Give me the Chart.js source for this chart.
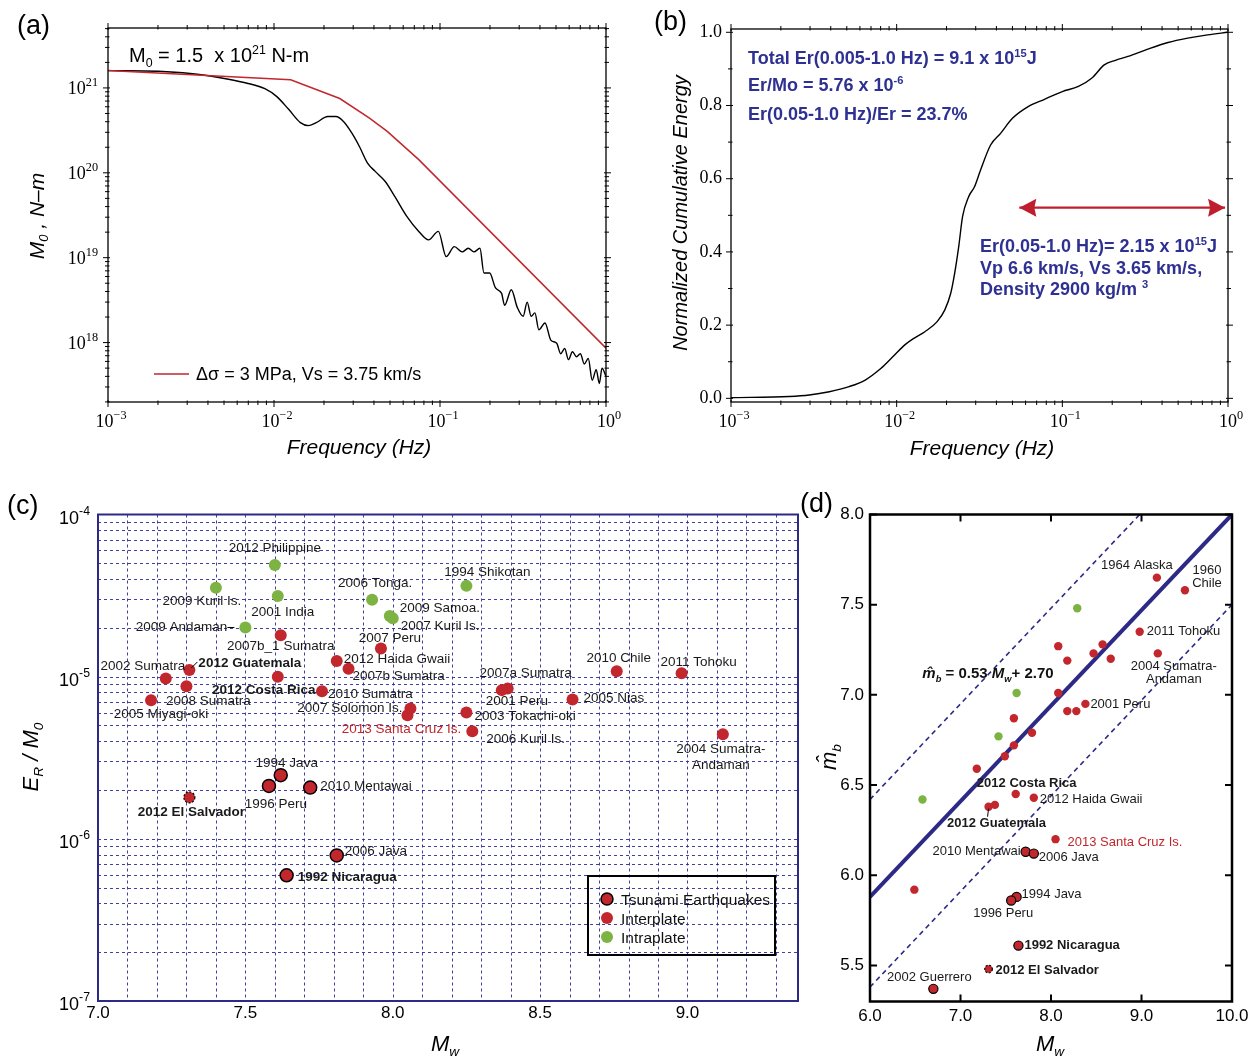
<!DOCTYPE html>
<html><head><meta charset="utf-8">
<script src="https://cdn.jsdelivr.net/npm/chart.js@4.4.1/dist/chart.umd.min.js"></script>
<style>
html,body{margin:0;padding:0;background:#fff;}
body{width:1255px;height:1056px;position:relative;overflow:hidden;}
canvas{position:absolute;}
</style></head><body>
<canvas id="ca" width="628" height="470" style="left:0;top:0;width:628px;height:470px"></canvas>
<canvas id="cb" width="627" height="470" style="left:628px;top:0;width:627px;height:470px"></canvas>
<canvas id="cc" width="815" height="586" style="left:0;top:470px;width:815px;height:586px"></canvas>
<canvas id="cd" width="460" height="586" style="left:795px;top:470px;width:460px;height:586px"></canvas>
<script>
// ---------------- DATA ----------------
// (a) moment-rate spectrum
const aFreq = [0.001,0.00201,0.00312,0.00483,0.00671,0.00881,0.0104,0.01225,0.01442,0.0161,0.01795,0.0211,0.0236,0.0263,0.0294,0.0327,0.0366,0.0407,0.0468,0.0536,0.0631,0.0745,0.0853,0.0977,0.109,0.122,0.136,0.148,0.160,0.174,0.184,0.199,0.216,0.235,0.245,0.269,0.292,0.317,0.335,0.354,0.373,0.394,0.429,0.465,0.505,0.533,0.564,0.594,0.628,0.664,0.701,0.740,0.782,0.826,0.873,0.912,0.946,1.0];
const aMoment = [1.60e21,1.57e21,1.48e21,1.31e21,1.15e21,9.8e20,7.9e20,5.6e20,3.9e20,3.6e20,3.9e20,4.6e20,4.6e20,4.0e20,2.95e20,2.04e20,1.30e20,1.04e20,7.9e19,5.2e19,3.07e19,2.04e19,1.62e19,2.04e19,1.03e19,1.35e19,1.17e19,1.29e19,1.17e19,1.29e19,6.6e18,6.6e18,4.4e18,3.8e18,2.75e18,4.2e18,2.6e18,2.04e18,3.0e18,2.04e18,2.24e18,1.41e18,1.70e18,1.07e18,9.8e17,7.4e17,8.5e17,6.3e17,7.8e17,6.8e17,7.4e17,5.6e17,6.5e17,3.6e17,4.8e17,3.3e17,5.0e17,4.0e17];
const aModelFreq = [0.001,0.0126,0.0249,0.0376,0.0481,0.0745,1.0];
const aModelMoment = [1.60e21,1.25e21,7.5e20,4.4e20,3.08e20,1.43e20,8.6e17];
const aXTicks = [0.001,0.01,0.1,1];
const aXTickExp = ['−3','−2','−1','0'];
const aYTicks = [1e18,1e19,1e20,1e21];
const aYTickExp = ['18','19','20','21'];

// (b) normalized cumulative energy
const bFreq = [0.001,0.00225,0.00297,0.00392,0.00516,0.00646,0.00805,0.00951,0.0112,0.0127,0.0148,0.0175,0.0195,0.0212,0.0224,0.0237,0.0250,0.0272,0.0295,0.0321,0.0369,0.0424,0.0500,0.0622,0.0780,0.100,0.125,0.151,0.179,0.211,0.249,0.328,0.434,0.571,0.753,1.0];
const bEnergy = [0.002,0.005,0.009,0.018,0.032,0.050,0.082,0.114,0.146,0.164,0.182,0.209,0.241,0.287,0.342,0.415,0.497,0.551,0.578,0.624,0.692,0.724,0.765,0.797,0.817,0.838,0.852,0.875,0.911,0.924,0.934,0.954,0.972,0.984,0.993,1.0];
const bArrowFreq = [0.055,0.96];
const bArrowLevel = [0.521,0.521];
const bXTicks = [0.001,0.01,0.1,1];
const bXTickExp = ['−3','−2','−1','0'];
const bYTicks = [0,0.2,0.4,0.6,0.8,1.0];
const bYTickLabels = ['0.0','0.2','0.4','0.6','0.8','1.0'];

// (c) E_R/M_0 vs Mw
const cTsuNames = ['1994 Java','1996 Peru','2010 Mentawai','2006 Java','1992 Nicaragua'];
const cTsuMw = [7.62,7.58,7.72,7.81,7.64];
const cTsuER = [2.47e-6,2.12e-6,2.07e-6,7.9e-7,5.96e-7];
const cInterNames = ['2007b_1 Sumatra','2007 Peru','2012 Haida Gwaii','2007b Sumatra','2012 Guatemala','2002 Sumatra','2012 Costa Rica','2008 Sumatra','2005 Miyagi-oki','2010 Sumatra','2007 Solomon Is.','2013 Santa Cruz Is.','2007a Sumatra','2001 Peru','2010 Chile','2011 Tohoku','2005 Nias','2003 Tokachi-oki','2006 Kuril Is.','2004 Sumatra-Andaman'];
const cInterMw = [7.62,7.96,7.81,7.85,7.31,7.23,7.61,7.30,7.18,7.76,8.06,8.05,8.39,8.37,8.76,8.98,8.61,8.25,8.27,9.12];
const cInterER = [1.80e-5,1.49e-5,1.25e-5,1.12e-5,1.10e-5,9.75e-6,9.98e-6,8.73e-6,7.16e-6,8.13e-6,6.37e-6,5.78e-6,8.45e-6,8.26e-6,1.08e-5,1.05e-5,7.23e-6,6.01e-6,4.61e-6,4.42e-6];
const cIntraNames = ['2012 Philippine','2009 Kuril Is.','2001 India','2006 Tonga.','2009 Samoa.','2007 Kuril Is.','2009 Andaman','1994 Shikotan'];
const cIntraMw = [7.60,7.40,7.61,7.93,7.99,8.00,7.50,8.25];
const cIntraER = [4.88e-5,3.53e-5,3.14e-5,2.98e-5,2.37e-5,2.29e-5,2.01e-5,3.63e-5];
const cSalvName = ['2012 El Salvador'];
const cSalvMw = [7.31];
const cSalvER = [1.80e-6];
const cXTicks = [7.0,7.5,8.0,8.5,9.0];
const cXTickLabels = ['7.0','7.5','8.0','8.5','9.0'];
const cYTicks = [1e-7,1e-6,1e-5,1e-4];
const cYTickExp = ['-7','-6','-5','-4'];
const cLegendLabels = ['Tsunami Earthquakes','Interplate','Intraplate'];

// (d) mb-hat vs Mw
const dTsuNames = ['2010 Mentawai','2006 Java','1994 Java','1996 Peru','1992 Nicaragua','2002 Guerrero'];
const dTsuMw = [7.72,7.81,7.62,7.56,7.64,6.70];
const dTsuMb = [6.13,6.12,5.88,5.86,5.61,5.37];
const dInterNames = ['1964 Alaska','1960 Chile','2011 Tohoku','','','','','','2004 Sumatra-Andaman','','2001 Peru','','','','','','','','2012 Costa Rica','2012 Haida Gwaii','2012 Guatemala','','2013 Santa Cruz Is.',''];
const dInterMw = [9.17,9.48,8.98,8.08,8.57,8.47,8.18,8.66,9.18,8.08,8.38,8.18,8.28,7.59,7.79,7.59,7.49,7.18,7.61,7.81,7.31,7.38,8.05,6.49];
const dInterMb = [7.65,7.58,7.35,7.27,7.28,7.23,7.19,7.20,7.23,7.01,6.95,6.91,6.91,6.87,6.79,6.72,6.66,6.59,6.45,6.43,6.38,6.39,6.20,5.92];
const dIntraMw = [8.29,7.62,7.42,6.58];
const dIntraMb = [7.48,7.01,6.77,6.42];
const dSalvName = ['2012 El Salvador'];
const dSalvMw = [7.31];
const dSalvMb = [5.48];
const dFitMw = [6.0,10.0],  dFitMb = [5.88,8.0];
const dUpperMw = [6.0,8.98], dUpperMb = [6.42,8.0];
const dLowerMw = [6.0,10.0], dLowerMb = [5.38,7.5];
const dXTicks = [6,7,8,9,10];
const dXTickLabels = ['6.0','7.0','8.0','9.0','10.0'];
const dYTicks = [5.5,6.0,6.5,7.0,7.5,8.0];
const dYTickLabels = ['5.5','6.0','6.5','7.0','7.5','8.0'];

// ---------------- STYLE / HELPERS ----------------
const SANS = '"Liberation Sans", Arial, Helvetica, sans-serif';
const SERIF = '"Liberation Serif", "Times New Roman", serif';
const RED = '#c1272d', GREEN = '#7cb342', NAVY = '#2c2a86', BTXT = '#2e3192';
Chart.defaults.font.family = SANS;
Chart.defaults.color = '#000';

const pts = (xs, ys) => xs.map((x, i) => ({x, y: ys[i]}));
function logMinor(lo, hi) { const r = []; for (let e = lo; e < hi; e++) for (let k = 2; k <= 9; k++) r.push(k * Math.pow(10, e)); return r; }

function rich(ctx, parts, x, y, o) {
  const size = o.size, fam = o.family || SANS;
  ctx.save();
  ctx.translate(x, y);
  if (o.rotate) ctx.rotate(o.rotate);
  ctx.fillStyle = o.color || '#000';
  ctx.textBaseline = 'alphabetic'; ctx.textAlign = 'left';
  const supScale = o.supScale || 0.62;
  const segs = parts.map(p => {
    const kind = p[1] || '', st = p[2] || {};
    const s = kind ? size * supScale : size;
    const f = `${st.style || o.style || 'normal'} ${st.weight || o.weight || 'normal'} ${s}px ${fam}`;
    ctx.font = f;
    return {t: p[0], kind, f, w: ctx.measureText(p[0]).width};
  });
  const total = segs.reduce((a, s) => a + s.w, 0);
  let cx = o.align === 'center' ? -total / 2 : o.align === 'right' ? -total : 0;
  const base = size * 0.36;
  for (const s of segs) {
    ctx.font = s.f;
    let dy = base;
    if (s.kind === 'sub') dy = base + size * 0.22;
    if (s.kind === 'sup') dy = base - size * (o.supRaise || 0.42);
    ctx.fillText(s.t, cx, dy);
    cx += s.w;
  }
  ctx.restore();
}

function drawFrame(chart, color, w) {
  const {ctx, chartArea: ca} = chart;
  ctx.save(); ctx.strokeStyle = color; ctx.lineWidth = w;
  ctx.strokeRect(ca.left, ca.top, ca.right - ca.left, ca.bottom - ca.top);
  ctx.restore();
}

function drawTicks(chart, o) {
  const {ctx, chartArea: ca} = chart; const xs = chart.scales.x, ys = chart.scales.y;
  ctx.save(); ctx.strokeStyle = o.color || '#000'; ctx.lineWidth = o.width || 1; ctx.beginPath();
  const X = (vals, out, inn) => vals.forEach(v => { const p = xs.getPixelForValue(v); if (p < ca.left - 1 || p > ca.right + 1) return;
    ctx.moveTo(p, ca.bottom + out); ctx.lineTo(p, ca.bottom - inn); ctx.moveTo(p, ca.top - out); ctx.lineTo(p, ca.top + inn); });
  const Y = (vals, out, inn) => vals.forEach(v => { const p = ys.getPixelForValue(v); if (p < ca.top - 1 || p > ca.bottom + 1) return;
    ctx.moveTo(ca.left - out, p); ctx.lineTo(ca.left + inn, p); ctx.moveTo(ca.right + out, p); ctx.lineTo(ca.right - inn, p); });
  X(o.xMajor, o.major[0], o.major[1]); X(o.xMinor || [], o.minor[0], o.minor[1]);
  Y(o.yMajor, o.major[0], o.major[1]); Y(o.yMinor || [], o.minor[0], o.minor[1]);
  ctx.stroke(); ctx.restore();
}

// power-of-ten tick labels ("10" with a raised exponent), placed with the library's scale
function drawPowLabels(chart, axisId, vals, exps, o) {
  const s = chart.scales[axisId], ca = chart.chartArea, ctx = chart.ctx;
  vals.forEach((v, i) => {
    const p = s.getPixelForValue(v);
    const parts = [['10'], [exps[i], 'sup']];
    const ro = {size: o.size, family: o.family, supScale: o.supScale, supRaise: o.supRaise};
    if (axisId === 'x') rich(ctx, parts, p + (o.dx || 0), ca.bottom + o.off, Object.assign(ro, {align: 'center'}));
    else rich(ctx, parts, ca.left - o.off, p + (o.dy || 0), Object.assign(ro, {align: 'right'}));
  });
}

function drawPointLabels(chart, dsIndex, names, layout, o) {
  const meta = chart.getDatasetMeta(dsIndex); const ctx = chart.ctx;
  names.forEach((name, i) => {
    if (!name) return; const L = layout[name]; if (!L) return;
    const el = meta.data[i]; const px = el.x, py = el.y;
    const bold = o.bold.includes(name), red = o.red.includes(name);
    ctx.save();
    ctx.font = `${bold ? 'bold ' : ''}${o.size}px ${SANS}`;
    ctx.fillStyle = red ? RED : '#1a1a1a';
    ctx.textBaseline = 'middle';
    ctx.textAlign = L[2] === 'l' ? 'left' : L[2] === 'r' ? 'right' : 'center';
    const lines = L[4] || [name];
    lines.forEach((line, k) => ctx.fillText(line, px + L[0], py + L[1] + k * o.lh));
    if (L[3]) { ctx.strokeStyle = '#000'; ctx.lineWidth = 1; ctx.beginPath(); ctx.moveTo(px + L[3][0], py + L[3][1]); ctx.lineTo(px + L[3][2], py + L[3][3]); ctx.stroke(); }
    ctx.restore();
  });
}

function dashedRing(chart, dsIndex, r) {
  const meta = chart.getDatasetMeta(dsIndex); const ctx = chart.ctx;
  meta.data.forEach(el => { ctx.save(); ctx.strokeStyle = '#000'; ctx.lineWidth = 1.2; ctx.setLineDash([2, 1.6]);
    ctx.beginPath(); ctx.arc(el.x, el.y, r, 0, Math.PI * 2); ctx.stroke(); ctx.restore(); });
}

function axis(type, min, max, size, tickVals, tickLabels, font, padding, showLabels) {
  return {type, min, max,
    afterFit: s => { if (s.isHorizontal()) s.height = size; else s.width = size; },
    afterBuildTicks: s => { s.ticks = tickVals.map(v => ({value: v})); },
    ticks: {display: showLabels !== false, callback: (v, i) => tickLabels ? tickLabels[i] : '', font, color: '#000', padding, autoSkip: false, maxRotation: 0, minRotation: 0},
    grid: {display: false, drawTicks: false, tickLength: 0}, border: {display: false}};
}
function base(pad) {
  return {responsive: false, animation: false, devicePixelRatio: 1, events: [],
    layout: {padding: pad},
    plugins: {legend: {display: false}, tooltip: {enabled: false}, title: {display: false}}};
}

// ---------------- PANEL (a) ----------------
const plugA = {id: 'pA', afterDraw(chart) {
  const ctx = chart.ctx;
  drawFrame(chart, '#000', 1.3);
  drawTicks(chart, {xMajor: aXTicks, xMinor: logMinor(-3, 0), yMajor: aYTicks, yMinor: logMinor(17, 22), major: [5, 2], minor: [3, 1.5], width: 1});
  drawPowLabels(chart, 'x', aXTicks, aXTickExp, {size: 18, family: SERIF, off: 19, supScale: 0.68, supRaise: 0.45, dx: 3});
  drawPowLabels(chart, 'y', aYTicks, aYTickExp, {size: 18, family: SERIF, off: 10, supScale: 0.68, supRaise: 0.45});
  rich(ctx, [['(a)']], 17, 24, {size: 27});
  rich(ctx, [['Frequency (Hz)']], 359, 446, {size: 21, style: 'italic', align: 'center'});
  rich(ctx, [['M'], ['0', 'sub'], [' , N–m']], 36, 216, {size: 21, style: 'italic', align: 'center', rotate: -Math.PI / 2});
  rich(ctx, [['M'], ['0', 'sub'], [' = 1.5  x 10'], ['21', 'sup'], [' N-m']], 129, 55, {size: 20});
  ctx.save(); ctx.strokeStyle = RED; ctx.lineWidth = 1.5; ctx.beginPath(); ctx.moveTo(154, 374); ctx.lineTo(189, 374); ctx.stroke(); ctx.restore();
  rich(ctx, [['Δσ = 3 MPa, Vs = 3.75 km/s']], 196, 374, {size: 18});
}};
const optA = base({left: 0, top: 28, right: 22, bottom: 0});
optA.scales = {
  x: axis('logarithmic', 0.001, 1, 68, aXTicks, null, {family: SERIF, size: 18}, 6, false),
  y: axis('logarithmic', Math.pow(10, 17.3), Math.pow(10, 21.706), 108, aYTicks, null, {family: SERIF, size: 18}, 10, false)
};
new Chart(document.getElementById('ca'), {type: 'scatter', data: {datasets: [
  {data: pts(aFreq, aMoment), showLine: true, borderColor: '#000', borderWidth: 1.4, pointRadius: 0, cubicInterpolationMode: 'monotone', order: 2},
  {data: pts(aModelFreq, aModelMoment), showLine: true, borderColor: RED, borderWidth: 1.5, pointRadius: 0, tension: 0, order: 1}
]}, options: optA, plugins: [plugA]});

// ---------------- PANEL (b) ----------------
const plugB = {id: 'pB', afterDraw(chart) {
  const ctx = chart.ctx;
  drawFrame(chart, '#000', 1.3);
  drawTicks(chart, {xMajor: bXTicks, xMinor: logMinor(-3, 0), yMajor: bYTicks, yMinor: [0.1, 0.3, 0.5, 0.7, 0.9], major: [5, 2], minor: [3, 1.5], width: 1});
  drawPowLabels(chart, 'x', bXTicks, bXTickExp, {size: 18, family: SERIF, off: 19, supScale: 0.68, supRaise: 0.45, dx: 3});
  const m = chart.getDatasetMeta(1).data;
  ctx.save(); ctx.fillStyle = '#be1e2d';
  const p0 = m[0], p1 = m[1];
  ctx.beginPath(); ctx.moveTo(p0.x, p0.y); ctx.lineTo(p0.x + 17, p0.y - 9); ctx.lineTo(p0.x + 15, p0.y); ctx.lineTo(p0.x + 17, p0.y + 9); ctx.closePath(); ctx.fill();
  ctx.beginPath(); ctx.moveTo(p1.x, p1.y); ctx.lineTo(p1.x - 17, p1.y - 9); ctx.lineTo(p1.x - 15, p1.y); ctx.lineTo(p1.x - 17, p1.y + 9); ctx.closePath(); ctx.fill();
  ctx.restore();
  rich(ctx, [['(b)']], 26, 20, {size: 27});
  rich(ctx, [['Frequency (Hz)']], 354, 447, {size: 21, style: 'italic', align: 'center'});
  rich(ctx, [['Normalized Cumulative Energy']], 52, 213, {size: 20, style: 'italic', align: 'center', rotate: -Math.PI / 2});
  const bo = {size: 18, weight: 'bold', color: BTXT};
  rich(ctx, [['Total Er(0.005-1.0 Hz) = 9.1 x 10'], ['15', 'sup'], ['J']], 120, 58, bo);
  rich(ctx, [['Er/Mo = 5.76 x 10'], ['-6', 'sup']], 120, 85, bo);
  rich(ctx, [['Er(0.05-1.0 Hz)/Er = 23.7%']], 120, 114, bo);
  rich(ctx, [['Er(0.05-1.0 Hz)= 2.15 x 10'], ['15', 'sup'], ['J']], 352, 246, bo);
  rich(ctx, [['Vp 6.6 km/s, Vs 3.65 km/s,']], 352, 268, bo);
  rich(ctx, [['Density 2900 kg/m '], ['3', 'sup']], 352, 289, bo);
}};
const optB = base({left: 0, top: 29, right: 27, bottom: 0});
optB.scales = {
  x: axis('logarithmic', 0.001, 1, 68, bXTicks, null, {family: SERIF, size: 18}, 6, false),
  y: axis('linear', -0.010, 1.009, 103, bYTicks, bYTickLabels, {family: SERIF, size: 18}, 9)
};
new Chart(document.getElementById('cb'), {type: 'scatter', data: {datasets: [
  {data: pts(bFreq, bEnergy), showLine: true, borderColor: '#000', borderWidth: 1.4, pointRadius: 0, cubicInterpolationMode: 'monotone', order: 2},
  {data: pts(bArrowFreq, bArrowLevel), showLine: true, borderColor: '#be1e2d', borderWidth: 2.2, pointRadius: 0, order: 1}
]}, options: optB, plugins: [plugB]});

// ---------------- PANEL (c) ----------------
const cLayout = {
  '2012 Philippine': [0, -17, 'c'], '2009 Kuril Is.': [-14, 13, 'c'], '2001 India': [5, 16, 'c'],
  '2006 Tonga.': [3, -16, 'c'], '2009 Samoa.': [10, -8, 'l'], '2007 Kuril Is.': [8, 8, 'l'],
  '2009 Andaman': [-18, 0, 'r', [-18, 0, -11, 0]], '1994 Shikotan': [21, -14, 'c'],
  '2007b_1 Sumatra': [0, 11, 'c'], '2007 Peru': [9, -10, 'c'], '2012 Haida Gwaii': [7, -2, 'l'],
  '2007b Sumatra': [4, 8, 'l'], '2012 Guatemala': [9, -7, 'l', [2, -2, 8, -8]], '2002 Sumatra': [-23, -12, 'c'],
  '2012 Costa Rica': [-14, 13, 'c'], '2008 Sumatra': [22, 15, 'c'], '2005 Miyagi-oki': [10, 14, 'c'],
  '2010 Sumatra': [6, 3, 'l'], '2007 Solomon Is.': [-8, 0, 'r'], '2013 Santa Cruz Is.': [-6, 14, 'c'],
  '2007a Sumatra': [18, -15, 'c'], '2001 Peru': [15, 11, 'c'], '2010 Chile': [2, -13, 'c'],
  '2011 Tohoku': [17, -11, 'c'], '2005 Nias': [11, -1, 'l'], '2003 Tokachi-oki': [8, 4, 'l'],
  '2006 Kuril Is.': [14, 8, 'l'], '2004 Sumatra-Andaman': [-2, 15, 'c', null, ['2004 Sumatra-', 'Andaman']],
  '1994 Java': [6, -12, 'c'], '1996 Peru': [7, 18, 'c'], '2010 Mentawai': [10, -1, 'l'],
  '2006 Java': [8, -4, 'l'], '1992 Nicaragua': [11, 2, 'l'], '2012 El Salvador': [2, 15, 'c']
};
const boldNames = ['2012 Guatemala', '2012 Costa Rica', '2012 El Salvador', '1992 Nicaragua'];
const redNames = ['2013 Santa Cruz Is.'];
const plugC = {id: 'pC',
  beforeDatasetsDraw(chart) {
    const {ctx, chartArea: ca} = chart; const xs = chart.scales.x, ys = chart.scales.y;
    ctx.save(); ctx.strokeStyle = 'rgba(44,42,150,0.9)'; ctx.lineWidth = 1; ctx.setLineDash([3, 3]);
    ctx.beginPath();
    for (let k = 71; k <= 93; k++) { const p = Math.round(xs.getPixelForValue(k / 10)) + 0.5; ctx.moveTo(p, ca.top); ctx.lineTo(p, ca.bottom); }
    logMinor(-7, -4).concat([1e-6, 1e-5]).forEach(v => { const p = Math.round(ys.getPixelForValue(v)) + 0.5; ctx.moveTo(ca.left, p); ctx.lineTo(ca.right, p); });
    ctx.stroke(); ctx.restore();
  },
  afterDraw(chart) {
    const ctx = chart.ctx;
    drawFrame(chart, NAVY, 2);
    drawPowLabels(chart, 'y', cYTicks, cYTickExp, {size: 18, family: SANS, off: 8, dy: 3, supScale: 0.68, supRaise: 0.5});
    dashedRing(chart, 3, 5.5);
    const lo = {size: 13.5, lh: 16, bold: boldNames, red: redNames};
    drawPointLabels(chart, 0, cTsuNames, cLayout, lo);
    drawPointLabels(chart, 1, cInterNames, cLayout, lo);
    drawPointLabels(chart, 2, cIntraNames, cLayout, lo);
    drawPointLabels(chart, 3, cSalvName, cLayout, lo);
    rich(ctx, [['(c)']], 7, 34, {size: 27});
    rich(ctx, [['E'], ['R', 'sub'], [' / M'], ['0', 'sub']], 30, 287, {size: 22, style: 'italic', align: 'center', rotate: -Math.PI / 2});
    rich(ctx, [['M'], ['w', 'sub']], 445, 573, {size: 22, style: 'italic', align: 'center'});
    // legend
    ctx.save(); ctx.strokeStyle = '#000'; ctx.lineWidth = 2; ctx.strokeRect(588, 406, 187, 79);
    const items = [[RED, '#000', 1.5], [RED, null, 0], [GREEN, null, 0]];
    items.forEach((it, k) => {
      const y = 429 + k * 19;
      ctx.beginPath(); ctx.arc(607, y, 6, 0, Math.PI * 2); ctx.fillStyle = it[0]; ctx.fill();
      if (it[1]) { ctx.strokeStyle = it[1]; ctx.lineWidth = it[2]; ctx.stroke(); }
      rich(ctx, [[cLegendLabels[k]]], 621, y, {size: 15.5, color: '#111'});
    });
    ctx.restore();
  }};
const optC = base({left: 0, top: 44.5, right: 17, bottom: 0});
optC.scales = {
  x: axis('linear', 7.0, 9.375, 55, cXTicks, cXTickLabels, {family: SANS, size: 17}, 2),
  y: axis('logarithmic', 1e-7, 1e-4, 98, cYTicks, null, {family: SANS, size: 17}, 8, false)
};
new Chart(document.getElementById('cc'), {type: 'scatter', data: {datasets: [
  {data: pts(cTsuMw, cTsuER), pointRadius: 6.5, pointBackgroundColor: RED, pointBorderColor: '#000', pointBorderWidth: 1.5, order: 1},
  {data: pts(cInterMw, cInterER), pointRadius: 6, pointBackgroundColor: RED, pointBorderColor: RED, pointBorderWidth: 0, order: 2},
  {data: pts(cIntraMw, cIntraER), pointRadius: 6, pointBackgroundColor: GREEN, pointBorderColor: GREEN, pointBorderWidth: 0, order: 3},
  {data: pts(cSalvMw, cSalvER), pointRadius: 5.5, pointBackgroundColor: RED, pointBorderColor: RED, pointBorderWidth: 0, order: 0}
]}, options: optC, plugins: [plugC]});

// ---------------- PANEL (d) ----------------
const dLayout = {
  '1964 Alaska': [-20, -12, 'c'], '1960 Chile': [22, -20, 'c', null, ['1960', 'Chile']], '2011 Tohoku': [7, 0, 'l'],
  '2004 Sumatra-Andaman': [16, 13, 'c', null, ['2004 Sumatra-', 'Andaman']], '2001 Peru': [5, 1, 'l'],
  '2012 Costa Rica': [11, -11, 'c'], '2012 Haida Gwaii': [6, 2, 'l'], '2012 Guatemala': [8, 17, 'c', [0, 2, -1, 10]],
  '2013 Santa Cruz Is.': [12, 3, 'l'], '2010 Mentawai': [-5, 0, 'r'], '2006 Java': [5, 4, 'l'],
  '1994 Java': [5, -2, 'l'], '1996 Peru': [-8, 13, 'c'], '1992 Nicaragua': [6, 0, 'l'],
  '2012 El Salvador': [7, 1, 'l'], '2002 Guerrero': [-4, -11, 'c']
};
const plugD = {id: 'pD', afterDraw(chart) {
  const ctx = chart.ctx;
  drawFrame(chart, '#000', 2.5);
  drawTicks(chart, {xMajor: dXTicks, yMajor: dYTicks, major: [0, 7], minor: [0, 0], width: 2});
  dashedRing(chart, 3, 3.8);
  const lo = {size: 13, lh: 13, bold: boldNames, red: redNames};
  drawPointLabels(chart, 0, dTsuNames, dLayout, lo);
  drawPointLabels(chart, 1, dInterNames, dLayout, lo);
  drawPointLabels(chart, 3, dSalvName, dLayout, lo);
  rich(ctx, [['(d)']], 5, 32, {size: 27});
  rich(ctx, [['m\u0302'], ['b', 'sub']], 33, 287, {size: 22, style: 'italic', align: 'center', rotate: -Math.PI / 2});
  rich(ctx, [['M'], ['w', 'sub']], 255, 573, {size: 22, style: 'italic', align: 'center'});
  const bi = {style: 'italic', weight: 'bold'}, bb = {weight: 'bold'};
  rich(ctx, [['m\u0302', '', bi], ['b', 'sub', bi], [' = 0.53 ', '', bb], ['M', '', bi], ['w', 'sub', bi], ['+ 2.70', '', bb]], 193, 203, {size: 15, align: 'center', color: '#111'});
}};
const optD = base({left: 0, top: 44.5, right: 23, bottom: 0});
optD.scales = {
  x: axis('linear', 6, 10, 54.5, dXTicks, dXTickLabels, {family: SANS, size: 17}, 5),
  y: axis('linear', 5.3, 8.0, 75, dYTicks, dYTickLabels, {family: SANS, size: 17}, 6)
};
new Chart(document.getElementById('cd'), {type: 'scatter', data: {datasets: [
  {data: pts(dTsuMw, dTsuMb), pointRadius: 4.6, pointBackgroundColor: RED, pointBorderColor: '#000', pointBorderWidth: 1.2, order: 1},
  {data: pts(dInterMw, dInterMb), pointRadius: 4.2, pointBackgroundColor: RED, pointBorderColor: RED, pointBorderWidth: 0, order: 2},
  {data: pts(dIntraMw, dIntraMb), pointRadius: 4.2, pointBackgroundColor: GREEN, pointBorderColor: GREEN, pointBorderWidth: 0, order: 3},
  {data: pts(dSalvMw, dSalvMb), pointRadius: 3.8, pointBackgroundColor: RED, pointBorderColor: RED, pointBorderWidth: 0, order: 0},
  {data: pts(dFitMw, dFitMb), showLine: true, borderColor: NAVY, borderWidth: 4, pointRadius: 0, order: 10},
  {data: pts(dUpperMw, dUpperMb), showLine: true, borderColor: NAVY, borderWidth: 1.6, borderDash: [5, 4], pointRadius: 0, order: 11},
  {data: pts(dLowerMw, dLowerMb), showLine: true, borderColor: NAVY, borderWidth: 1.6, borderDash: [5, 4], pointRadius: 0, order: 11}
]}, options: optD, plugins: [plugD]});
</script>
</body></html>
